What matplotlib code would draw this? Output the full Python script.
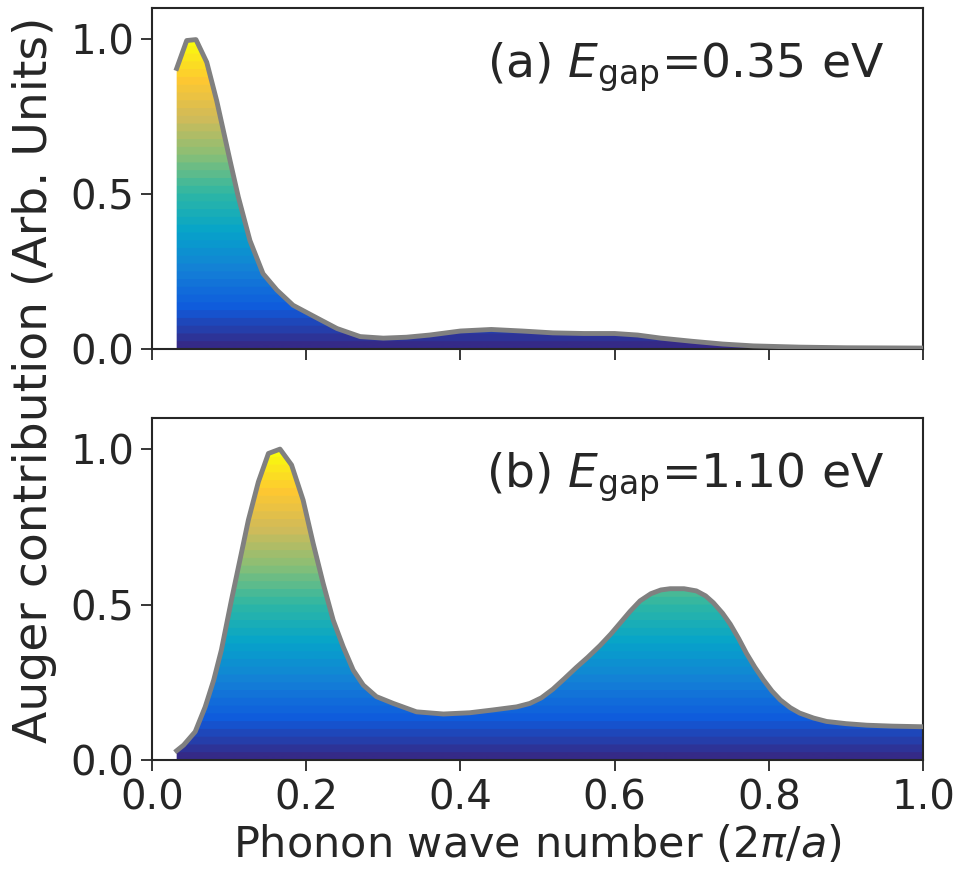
import matplotlib
matplotlib.use("Agg")
import matplotlib.pyplot as plt
import numpy as np
from matplotlib.colors import LinearSegmentedColormap, ListedColormap

# panel (a): E_gap = 0.35 eV
xa = [0.032, 0.045, 0.057, 0.071, 0.084, 0.101, 0.112, 0.127, 0.144, 0.162,
      0.183, 0.214, 0.24, 0.27, 0.30, 0.33, 0.36, 0.40, 0.44, 0.48, 0.52,
      0.56, 0.60, 0.63, 0.66, 0.70, 0.74, 0.78, 0.84, 0.90, 1.0]
ya = [0.905, 0.995, 0.998, 0.925, 0.80, 0.61, 0.49, 0.35, 0.243, 0.19,
      0.141, 0.10, 0.066, 0.04, 0.035, 0.038, 0.045, 0.058, 0.063, 0.058, 0.052,
      0.05, 0.05, 0.045, 0.035, 0.025, 0.016, 0.01, 0.006, 0.004, 0.003]

# panel (b): E_gap = 1.10 eV
xb = [0.032, 0.041, 0.056, 0.069, 0.08, 0.09, 0.103, 0.114, 0.125, 0.138,
      0.151, 0.166, 0.181, 0.196, 0.209, 0.222, 0.235, 0.248, 0.261, 0.274,
      0.291, 0.313, 0.343, 0.378, 0.412, 0.442, 0.473, 0.49, 0.505, 0.52,
      0.535, 0.55, 0.565, 0.581, 0.595, 0.607, 0.62, 0.633, 0.647, 0.66,
      0.672, 0.69, 0.706, 0.718, 0.728, 0.74, 0.75, 0.761, 0.771, 0.782,
      0.793, 0.804, 0.815, 0.828, 0.84, 0.858, 0.875, 0.9, 0.927, 0.96, 1.0]
yb = [0.03, 0.048, 0.091, 0.171, 0.257, 0.354, 0.514, 0.643, 0.772, 0.895,
      0.986, 1.0, 0.949, 0.836, 0.697, 0.568, 0.45, 0.364, 0.289, 0.241,
      0.204, 0.182, 0.155, 0.148, 0.152, 0.161, 0.171, 0.182, 0.20, 0.228,
      0.262, 0.297, 0.33, 0.368, 0.405, 0.44, 0.478, 0.512, 0.535, 0.547,
      0.551, 0.551, 0.544, 0.528, 0.506, 0.472, 0.437, 0.39, 0.343, 0.298,
      0.258, 0.222, 0.193, 0.168, 0.151, 0.135, 0.124, 0.117, 0.112, 0.109, 0.107]

labels = [r"(a) $E_{\rm gap}$=0.35 eV", r"(b) $E_{\rm gap}$=1.10 eV"]
yticks = [0.0, 0.5, 1.0]
xticks = [0.0, 0.2, 0.4, 0.6, 0.8, 1.0]

# parula-like colormap, quantised into horizontal bands
parula_anchor = ["#352a87", "#0f5cdd", "#1481d6", "#06a4ca", "#2eb7a4",
                 "#87bf77", "#d1bb59", "#fec832", "#f9fb0e"]
base = LinearSegmentedColormap.from_list("parula", parula_anchor)
cmap = ListedColormap(base(np.linspace(0, 1, 40)))

text_color = "#262626"
plt.rcParams.update({
    "font.family": "DejaVu Sans",
    "font.size": 29,
    "text.color": text_color,
    "axes.labelcolor": text_color,
    "axes.edgecolor": text_color,
    "axes.linewidth": 1.5,
    "xtick.color": text_color,
    "ytick.color": text_color,
    "xtick.labelsize": 29,
    "ytick.labelsize": 29,
    "xtick.major.size": 8,
    "ytick.major.size": 8,
    "xtick.major.width": 1.3,
    "ytick.major.width": 1.3,
    "xtick.major.pad": 5,
    "ytick.major.pad": 5,
})

fig = plt.figure(figsize=(9.59, 8.76), dpi=100)
ax_a = fig.add_axes([0.1585, 0.6016, 0.804, 0.3893])
ax_b = fig.add_axes([0.1585, 0.1324, 0.804, 0.3904], sharex=ax_a)

gradient = np.linspace(0, 1, 400).reshape(-1, 1)

for ax, x, y, label in zip([ax_a, ax_b], [xa, xb], [ya, yb], labels):
    poly = ax.fill_between(x, y, 0, facecolor="none", edgecolor="none")
    im = ax.imshow(gradient, cmap=cmap, origin="lower", aspect="auto",
                   extent=[0, 1, 0, 1], vmin=0, vmax=1, zorder=1)
    im.set_clip_path(poly.get_paths()[0], transform=ax.transData)
    ax.plot(x, y, color="#808080", linewidth=3.5, zorder=3)
    ax.set_xlim(0, 1)
    ax.set_ylim(0, 1.1)
    ax.set_yticks(yticks)
    ax.set_xticks(xticks)
    ax.text(0.95, 0.905, label, transform=ax.transAxes, ha="right", va="top",
            fontsize=34)

ax_a.tick_params(labelbottom=False)
ax_b.set_xlabel(r"Phonon wave number (2$\pi$/$a$)", fontsize=31, labelpad=4)
fig.text(0.036, 0.566, "Auger contribution (Arb. Units)", rotation=90,
         ha="center", va="center", fontsize=34)

fig.savefig("out.png", dpi=100)
